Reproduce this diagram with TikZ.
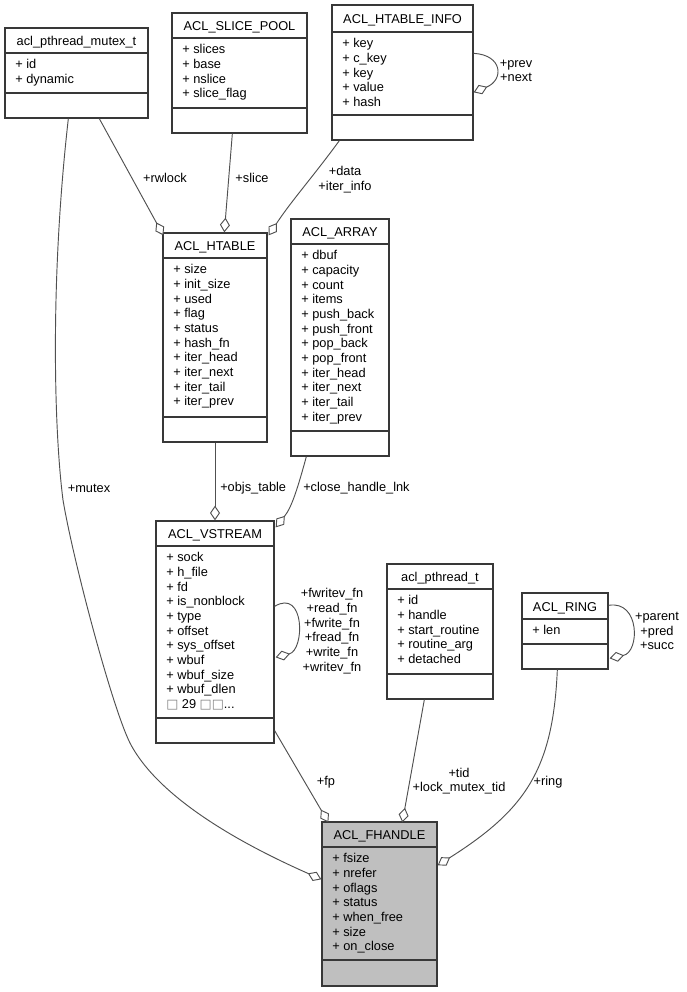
\documentclass[tikz,border=0pt]{standalone}
\usepackage{fontspec}
\setmainfont{Liberation Sans}
\newfontfamily\symfont{DejaVu Sans}
\usetikzlibrary{arrows.meta,calc,fit}
\definecolor{boxcol}{HTML}{383838}
\definecolor{conncol}{HTML}{505050}
\definecolor{fhfill}{HTML}{BFBFBF}
\newcommand{\umlfont}{\fontsize{9.6}{11}\selectfont}
\newcommand{\qbox}{{\symfont\textcolor{gray}{□}}}
\tikzset{
  classbox/.style={draw=boxcol, line width=1pt, fill=white, inner sep=0pt},
  sepline/.style={draw=boxcol, line width=1pt},
  titletext/.style={anchor=base, inner sep=0pt, font=\umlfont},
  attrtext/.style={anchor=north west, inner sep=0pt, align=left, font=\umlfont},
  lbl/.style={inner sep=0pt, font=\umlfont, align=center},
  conn/.style={draw=conncol, line width=0.7pt, -{Diamond[fill=white, length=11pt, width=7.5pt]}},
}
\begin{document}
\begin{tikzpicture}[x=0.75pt, y=-0.75pt]
\useasboundingbox (0,0) rectangle (686,992);
\fill[white] (0,0) rectangle (686,992);

% acl_pthread_mutex_t
\node[classbox, fit={(5,28) (148,118)}] (mutex) {};
\draw[sepline] (5,53) -- (148,53) (5,93) -- (148,93);
\node[titletext] (mutex-t) at (76.5,45.5) {acl\_pthread\_mutex\_t};
\node[attrtext] (mutex-a) at (15,58.2) {\strut + id\\+ dynamic};

% ACL_SLICE_POOL
\node[classbox, fit={(172,13) (307,133)}] (slice) {};
\draw[sepline] (172,38) -- (307,38) (172,108) -- (307,108);
\node[titletext] (slice-t) at (239.5,30.5) {ACL\_SLICE\_POOL};
\node[attrtext] (slice-a) at (182,43.2) {\strut + slices\\+ base\\+ nslice\\+ slice\_flag};

% ACL_HTABLE_INFO
\node[classbox, fit={(332,5) (473,140)}] (info) {};
\draw[sepline] (332,32) -- (473,32) (332,115) -- (473,115);
\node[titletext] (info-t) at (402.5,23.5) {ACL\_HTABLE\_INFO};
\node[attrtext] (info-a) at (342,37.2) {\strut + key\\+ c\_key\\+ key\\+ value\\+ hash};

% ACL_HTABLE
\node[classbox, fit={(163,233) (267,442)}] (htable) {};
\draw[sepline] (163,258) -- (267,258) (163,417) -- (267,417);
\node[titletext] (htable-t) at (215,250.5) {ACL\_HTABLE};
\node[attrtext] (htable-a) at (173,263.2) {\strut + size\\+ init\_size\\+ used\\+ flag\\+ status\\+ hash\_fn\\+ iter\_head\\+ iter\_next\\+ iter\_tail\\+ iter\_prev};

% ACL_ARRAY
\node[classbox, fit={(291,219) (389,456)}] (array) {};
\draw[sepline] (291,244) -- (389,244) (291,431) -- (389,431);
\node[titletext] (array-t) at (340,236.5) {ACL\_ARRAY};
\node[attrtext] (array-a) at (301,249.2) {\strut + dbuf\\+ capacity\\+ count\\+ items\\+ push\_back\\+ push\_front\\+ pop\_back\\+ pop\_front\\+ iter\_head\\+ iter\_next\\+ iter\_tail\\+ iter\_prev};

% ACL_VSTREAM
\node[classbox, fit={(156,521) (274,743)}] (vstream) {};
\draw[sepline] (156,546) -- (274,546) (156,718) -- (274,718);
\node[titletext] (vstream-t) at (215,538.5) {ACL\_VSTREAM};
\node[attrtext] (vstream-a) at (166,551.2) {\strut + sock\\+ h\_file\\+ fd\\+ is\_nonblock\\+ type\\+ offset\\+ sys\_offset\\+ wbuf\\+ wbuf\_size\\+ wbuf\_dlen\\\qbox{} 29 \qbox\qbox...};

% acl_pthread_t
\node[classbox, fit={(387,564) (493,699)}] (pthread) {};
\draw[sepline] (387,589) -- (493,589) (387,674) -- (493,674);
\node[titletext] (pthread-t) at (440,581.5) {acl\_pthread\_t};
\node[attrtext] (pthread-a) at (397,594.2) {\strut + id\\+ handle\\+ start\_routine\\+ routine\_arg\\+ detached};

% ACL_RING
\node[classbox, fit={(522,593) (608,669)}] (ring) {};
\draw[sepline] (522,619) -- (608,619) (522,644) -- (608,644);
\node[titletext] (ring-t) at (565,611) {ACL\_RING};
\node[attrtext] (ring-a) at (532,624.2) {\strut + len};

% ACL_FHANDLE
\node[classbox, fill=fhfill, fit={(322,822) (437,986)}] (fhandle) {};
\draw[sepline] (322,847) -- (437,847) (322,960) -- (437,960);
\node[titletext] (fhandle-t) at (379.5,839.5) {ACL\_FHANDLE};
\node[attrtext] (fhandle-a) at (332,852.2) {\strut + fsize\\+ nrefer\\+ oflags\\+ status\\+ when\_free\\+ size\\+ on\_close};

% connectors
\draw[conn] ($(mutex.south west)+(64,0)$) .. controls (50,280) and (54,430) .. (63,500)
  .. controls (73,560) and (112,707) .. (130,743) .. controls (162,805) and (262,853) .. ($(fhandle.north west)+(0,58)$);
\draw[conn] ($(mutex.south west)+(95,0)$) -- ($(htable.north west)+(1,3)$);
\draw[conn] ($(slice.south west)+(61,0)$) -- ($(htable.north west)+(62,0)$);
\draw[conn] ($(info.south west)+(8,0)$) .. controls (312,178) and (292,200) .. ($(htable.north east)+(1,3)$);
\draw[conn] ($(info.north east)+(0,49)$) .. controls (503,55) and (504,80) .. ($(info.north east)+(0,88)$);
\draw[conn] (htable.south) -- (vstream.north);
\draw[conn] ($(array.south west)+(16,0)$) .. controls (298,487) and (292,507) .. ($(vstream.north east)+(1,7)$);
\draw[conn] ($(vstream.north east)+(0,86)$) .. controls (305,588) and (305,650) .. ($(vstream.north east)+(1,137)$);
\draw[conn] ($(vstream.south east)+(0,-13)$) -- ($(fhandle.north west)+(7,1)$);
\draw[conn] ($(pthread.south west)+(38,0)$) -- ($(fhandle.north west)+(81,1)$);
\draw[conn] ($(ring.south west)+(36,0)$) .. controls (553,770) and (525,810) .. ($(fhandle.north east)+(0,44)$);
\draw[conn] ($(ring.north east)+(0,13)$) .. controls (640,600) and (640,652) .. ($(ring.north east)+(1,66)$);

% connector labels
\node[lbl] (l-mutex) at (89,488) {+mutex};
\node[lbl] (l-rwlock) at (165,178) {+rwlock};
\node[lbl] (l-slice) at (252,178) {+slice};
\node[lbl] (l-data) at (345,179.5) {+data\\+iter\_info};
\node[lbl] (l-prev) at (516,71) {+prev\\+next};
\node[lbl, anchor=west] (l-objs) at (220,488) {+objs\_table};
\node[lbl, anchor=west] (l-close) at (303,488) {+close\_handle\_lnk};
\node[lbl] (l-fn) at (332,631) {+fwritev\_fn\\+read\_fn\\+fwrite\_fn\\+fread\_fn\\+write\_fn\\+writev\_fn};
\node[lbl] (l-fp) at (326,782) {+fp};
\node[lbl] (l-tid) at (459,781) {+tid\\+lock\_mutex\_tid};
\node[lbl] (l-ring) at (548,782) {+ring};
\node[lbl] (l-parent) at (657,631) {+parent\\+pred\\+succ};
\end{tikzpicture}
\end{document}
